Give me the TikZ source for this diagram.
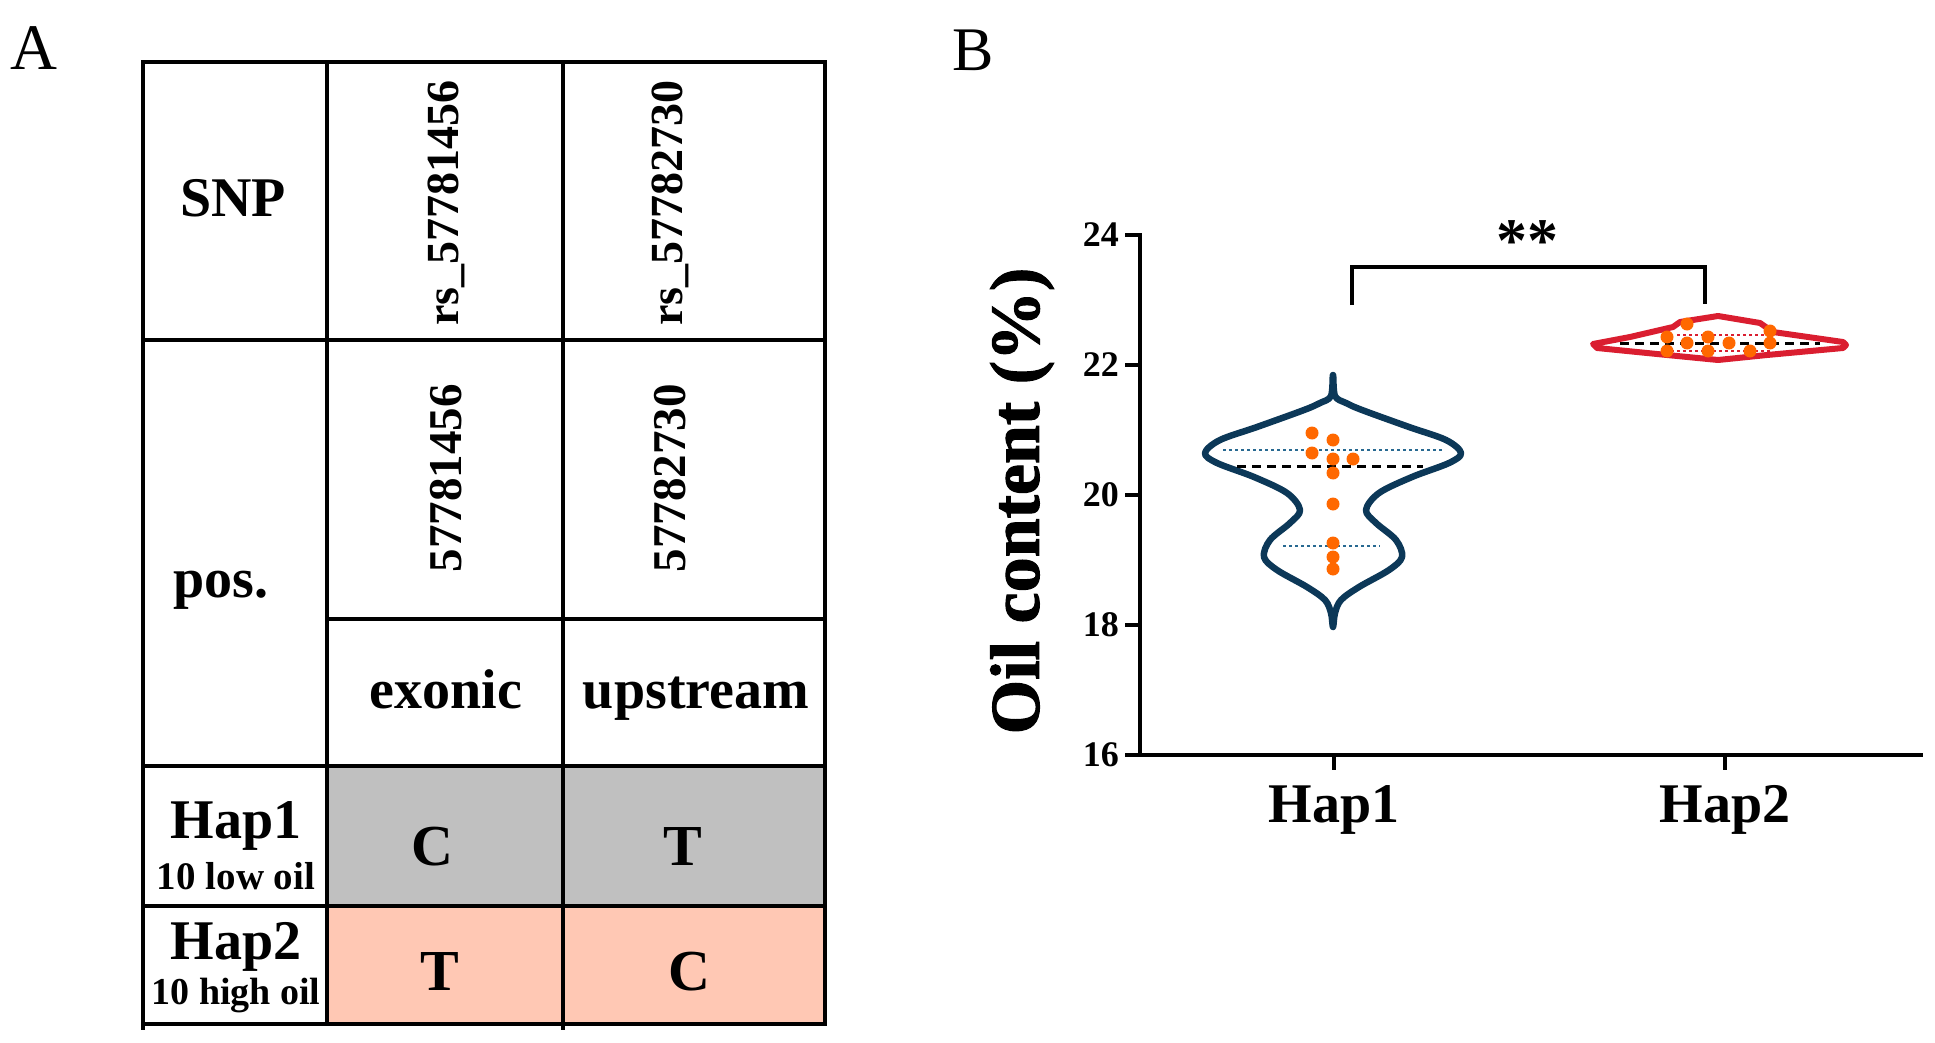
\documentclass[tikz,border=0pt]{standalone}
\usepackage{fontspec}
\setmainfont{Liberation Serif}
\newfontfamily\heavyfont[FakeBold=1.5]{Liberation Serif}
\definecolor{navy}{RGB}{12,56,88}
\definecolor{qblue}{RGB}{40,105,145}
\definecolor{vred}{RGB}{218,30,48}
\definecolor{dotorange}{RGB}{255,104,0}
\definecolor{cellgray}{RGB}{192,192,192}
\definecolor{cellpeach}{RGB}{255,200,180}
\begin{document}
\begin{tikzpicture}[x=1pt,y=-1pt,
  fs/.style={font=\fontsize{#1}{#1}\selectfont, inner sep=0pt},
  fb/.style={font=\bfseries\fontsize{#1}{#1}\selectfont, inner sep=0pt},
  gridline/.style={line width=4.5pt, black},
  axisline/.style={line width=4.5pt, black},
  vio1/.style={line width=6.5pt, navy, line join=round},
  vio2/.style={line width=6pt, vred, line join=round},
  quart/.style={line width=2.5pt, dash pattern=on 2.5pt off 3.5pt},
  med/.style={line width=3pt, black, dash pattern=on 9pt off 6pt},
  dot/.style={circle, fill=dotorange, inner sep=0pt, minimum size=13pt}]
\useasboundingbox (0,0) rectangle (1935,1043);

% ---------------- Panel A ----------------
\node[fs=65, anchor=base] (labA) at (34,70) {A};
\fill[cellgray] (327,766) rectangle (825,906);
\fill[cellpeach] (327,906) rectangle (825,1024);
\draw[gridline] (143,62) -- (825,62) -- (825,1024) -- (143,1024) -- cycle;
\draw[gridline] (143,340) -- (825,340);
\draw[gridline] (327,619) -- (825,619);
\draw[gridline] (143,766) -- (825,766);
\draw[gridline] (143,906) -- (825,906);
\draw[gridline] (327,62) -- (327,1024);
\draw[gridline] (563,62) -- (563,1030);
\draw[gridline] (143,1024) -- (143,1030);

\node[fb=56] (snp) at (233,198) {SNP};
\node[fb=46, rotate=90] (rs1) at (446,203) {rs\_57781456};
\node[fb=46, rotate=90] (rs2) at (670,203) {rs\_57782730};
\node[fb=56, anchor=base] (pos) at (221,597) {pos.};
\node[fb=47, rotate=90] (p1) at (446,478) {57781456};
\node[fb=47, rotate=90] (p2) at (670,478) {57782730};
\node[fb=56, anchor=base] (exo) at (446,708) {exonic};
\node[fb=56, anchor=base] (ups) at (696,708) {upstream};
\node[fb=56, anchor=base] (h1) at (236,838) {Hap1};
\node[fb=39, anchor=base] (h1s) at (236,889) {10 low oil};
\node[fb=56, anchor=base] (h2) at (236,959) {Hap2};
\node[fb=38, anchor=base] (h2s) at (236,1004) {10 high oil};
\node[fb=58] (c11) at (432,847) {C};
\node[fb=58] (c12) at (683,847) {T};
\node[fb=58] (c21) at (440,972) {T};
\node[fb=58] (c22) at (689,972) {C};

% ---------------- Panel B ----------------
\node[fs=62, anchor=base] (labB) at (973,71) {B};
% axes
\draw[axisline] (1140,233) -- (1140,755) -- (1923,755);
\foreach \v/\yy in {24/235,22/365,20/495,18/625,16/755}{
  \draw[axisline] (1125,\yy) -- (1140,\yy);
  \node[fb=36, anchor=east] (t\v) at (1119,\yy) {\v};
}
\draw[axisline] (1334,755) -- (1334,770);
\draw[axisline] (1725,755) -- (1725,770);
\node[fb=56, anchor=base] (xh1) at (1334,822) {Hap1};
\node[fb=56, anchor=base] (xh2) at (1725,822) {Hap2};
\node[font=\heavyfont\bfseries\fontsize{70}{70}\selectfont, inner sep=0pt, rotate=90] (ylab) at (1022,501) {Oil content (\%)};

% significance bracket
\draw[line width=4.5pt] (1352,305) -- (1352,267) -- (1705,267) -- (1705,304);
\node[fb=62, anchor=base] (sig) at (1527,261) {**};

% Hap1 violin
\draw[vio1] plot[smooth cycle, tension=0.55] coordinates {
 (1333,375) (1335,396) (1346,403) (1362,410) (1409,427) (1446,440) (1461,453)
 (1449,463) (1412,477) (1379,493) (1366,510) (1376,523) (1396,540) (1402,557)
 (1389,570) (1359,587) (1341,600) (1335,613) (1333,627)
 (1331,613) (1325,600) (1307,587) (1277,570) (1264,557) (1270,540) (1290,523)
 (1300,510) (1287,493) (1254,477) (1217,463) (1205,453) (1220,440) (1257,427)
 (1304,410) (1320,403) (1331,396)};
\draw[quart, qblue] (1223,450) -- (1443,450);
\draw[quart, qblue] (1283,546) -- (1380,546);
\draw[med] (1237,466) -- (1423,466);
\foreach \px/\py [count=\i] in {1312/433,1333/440,1312/453,1333/459,1353/459,1333/473,1333/504,1333/543,1333/557,1333/569}{
  \node[dot] (da\i) at (\px,\py) {};
}

% Hap2 violin
\draw[vio2] (1593,344) -- (1630,337) -- (1673,327) -- (1680,322) -- (1718,316)
  -- (1760,323) -- (1773,332) -- (1843,342) -- (1846,345) -- (1843,348)
  -- (1767,355) -- (1718,360) -- (1667,355) -- (1597,348) -- cycle;
\draw[quart, vred] (1677,335) -- (1767,335);
\draw[quart, vred] (1665,351) -- (1770,351);
\draw[med] (1620,343) -- (1820,343);
\foreach \px/\py [count=\i] in {1687/324,1667/337,1667/351,1687/343,1708/337,1708/351,1729/343,1750/351,1770/331,1770/343}{
  \node[dot] (db\i) at (\px,\py) {};
}
\end{tikzpicture}
\end{document}
